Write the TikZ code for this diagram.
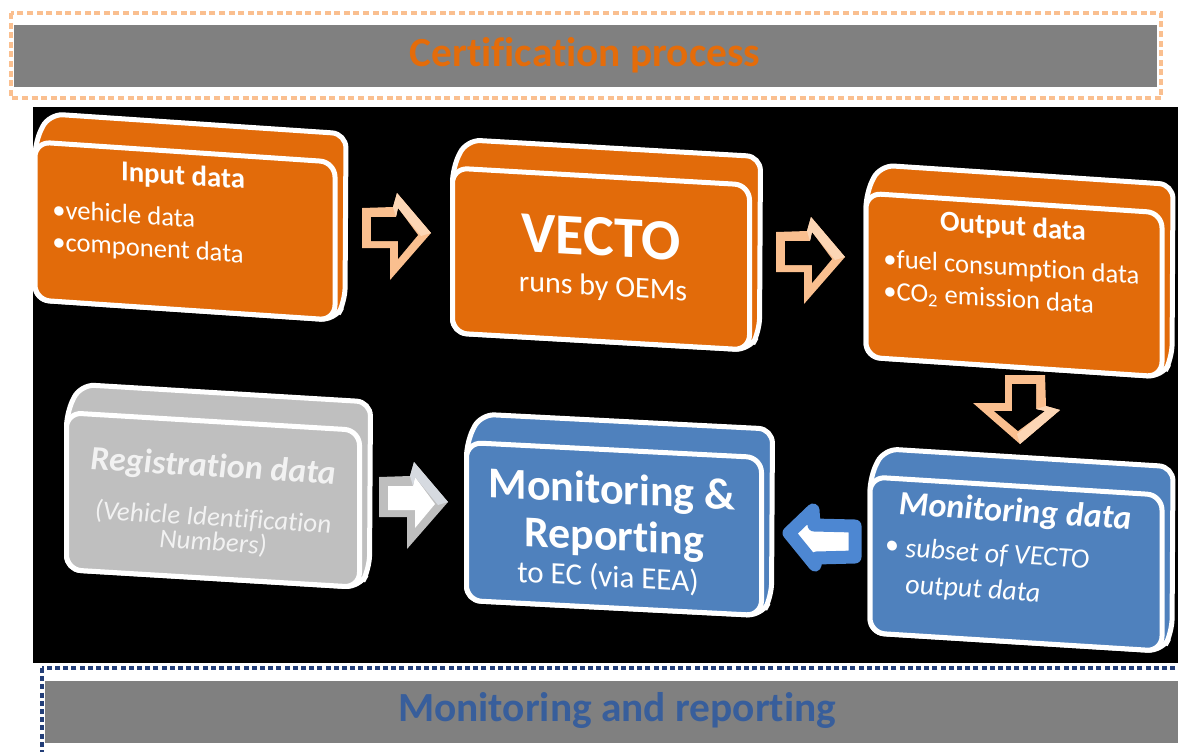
\documentclass[tikz,border=0pt]{standalone}
\usepackage{fontspec}
\setmainfont{Carlito}[Ligatures=NoCommon]
\usetikzlibrary{calc}
\definecolor{orng}{RGB}{226,107,10}
\definecolor{boxblue}{RGB}{79,129,189}
\definecolor{boxgray}{RGB}{191,191,191}
\definecolor{peach}{RGB}{250,191,143}
\definecolor{peachlt}{RGB}{252,214,181}
\definecolor{bannergray}{RGB}{128,128,128}
\definecolor{certorange}{RGB}{228,108,10}
\definecolor{mrblue}{RGB}{56,94,155}
\definecolor{navydash}{RGB}{35,62,120}
\definecolor{arrblue}{RGB}{77,135,210}
\definecolor{arrgray}{RGB}{190,190,190}
\definecolor{arrgraylt}{RGB}{214,218,224}
\definecolor{regtext}{RGB}{242,242,242}

\newcommand\xbackplate[3]{%
  \draw[backstyle, fill=#3] (-#1,#2) -- (-#1,-#2) -- ({-#1+14},{-#2-29}) -- ({#1+11},{-#2-29}) -- ({#1+10},{#2-19}) -- (#1,#2) -- cycle;}
\newcommand\xblockarrow[3]{%
  \fill[#1] (-35,-27) -- (-4,-28) -- (0,-42) -- (34,-2) -- (-7,45) -- (-7,13) -- (-35,13) -- cycle;
  \fill[#2] (-26,-18) -- (-1,-18) -- (1,-27) -- (21,0) -- (1,24) -- (1,6) -- (-26,6) -- cycle;
  \fill[#3] (-4,-28) -- (0,-42) -- (34,-2) -- (24,1) -- (1,-27) -- (-1,-18) -- cycle;}

\begin{document}
\begin{tikzpicture}[x=0.5pt,y=-0.5pt,
  backstyle/.style={draw=white, line width=2.5pt, rounded corners=7pt},
  frontbox/.style={draw=white, line width=2.5pt, rounded corners=7.5pt, inner sep=0pt, transform shape},
  wtxt/.style={text=white, inner sep=0pt, transform shape},
  banner/.style={fill=bannergray, inner sep=0pt, minimum height=31pt},
  titlefont/.style={font=\bfseries\fontsize{14.4}{17}\selectfont},
  bulfont/.style={font=\fontsize{13.3}{16}\selectfont}]
\useasboundingbox (0,0) rectangle (1178,751);
\clip (0,0) rectangle (1178,751);
\fill[white] (0,0) rectangle (1178,751);

% top banner
\draw[peach, line width=1.9pt, dash pattern=on 3pt off 1.8pt] (11,13) rectangle (1161,98);
\node[banner, minimum width=571.5pt] (certbar) at (585.5,56) {};
\node[text=certorange, inner sep=0pt, font=\bfseries\fontsize{20.7}{24}\selectfont] (certtitle) at (585,55) {Certification process};

% black background
\fill[black] (33,107) rectangle (1178,663);

% bottom banner
\draw[navydash, line width=1.8pt, dash pattern=on 2.5pt off 1.6pt] (42,668) rectangle (1200,790);
\node[banner, minimum width=566.5pt] (mrbar) at (611.5,712) {};
\node[text=mrblue, inner sep=0pt, font=\bfseries\fontsize{20.7}{24}\selectfont] (mrtitle) at (617,710) {Monitoring and reporting};

% Input data
\begin{scope}[shift={(185,231)}, yslant=-0.067]
\xbackplate{150}{79}{orng}
\node[frontbox, fill=orng, minimum width=150pt, minimum height=79pt] (inp) at (0,0) {};
\node[wtxt, titlefont] (inpT) at (-2,-54) {Input data};
\node[wtxt, bulfont, anchor=west] (inpA) at (-133,-13) {•vehicle data};
\node[wtxt, bulfont, anchor=west] (inpB) at (-133,21) {•component data};
\end{scope}

% VECTO
\begin{scope}[shift={(601,259)}, yslant=-0.057]
\xbackplate{148.5}{82.5}{orng}
\node[frontbox, fill=orng, minimum width=148.5pt, minimum height=82.5pt] (vec) at (0,0) {};
\node[wtxt, font=\bfseries\fontsize{29}{34}\selectfont] (vecT) at (0,-22) {VECTO};
\node[wtxt, font=\fontsize{15}{18}\selectfont] (vecS) at (2,29) {runs by OEMs};
\end{scope}

% Output data
\begin{scope}[shift={(1014,285)}, yslant=-0.066]
\xbackplate{148}{82}{orng}
\node[frontbox, fill=orng, minimum width=148pt, minimum height=82pt] (out) at (0,0) {};
\node[wtxt, titlefont] (outT) at (-1,-57) {Output data};
\node[wtxt, bulfont, anchor=west] (outA) at (-131,-16) {•fuel consumption data};
\node[wtxt, bulfont, anchor=west] (outB) at (-131,16) {•CO\textsubscript{2} emission data};
\end{scope}

% Registration data
\begin{scope}[shift={(213,500)}, yslant=-0.06]
\xbackplate{146.5}{78.5}{boxgray}
\node[frontbox, fill=boxgray, minimum width=146.5pt, minimum height=78.5pt] (reg) at (0,0) {};
\node[text=regtext, inner sep=0pt, transform shape, font=\bfseries\itshape\fontsize{17}{20}\selectfont] (regT) at (0,-32) {Registration data};
\node[text=regtext, inner sep=0pt, transform shape, font=\itshape\fontsize{13.5}{16}\selectfont] (regS) at (0,18) {(Vehicle Identification};
\node[text=regtext, inner sep=0pt, transform shape, font=\itshape\fontsize{13.5}{16}\selectfont] (regS2) at (0,43) {Numbers)};
\end{scope}

% Monitoring & Reporting
\begin{scope}[shift={(614,529)}, yslant=-0.051]
\xbackplate{147.5}{79}{boxblue}
\node[frontbox, fill=boxblue, minimum width=147.5pt, minimum height=79pt] (mr) at (0,0) {};
\node[wtxt, font=\bfseries\fontsize{22}{26}\selectfont] (mrA) at (-2,-37) {Monitoring \&};
\node[wtxt, font=\bfseries\fontsize{22}{26}\selectfont] (mrB) at (0,10) {Reporting};
\node[wtxt, font=\fontsize{15.5}{18}\selectfont] (mrC) at (-6,49) {to EC (via EEA)};
\end{scope}

% Monitoring data
\begin{scope}[shift={(1016,564)}, yslant=-0.062]
\xbackplate{146}{78}{boxblue}
\node[frontbox, fill=boxblue, minimum width=146pt, minimum height=78pt] (mon) at (0,0) {};
\node[wtxt, font=\bfseries\itshape\fontsize{17}{20}\selectfont] (monT) at (-1,-51) {Monitoring data};
\node[wtxt, font=\fontsize{14}{16}\selectfont] (monBul) at (-124,-9) {•};
\node[wtxt, anchor=west, font=\itshape\fontsize{14}{16}\selectfont] (monA) at (-111,-8) {subset of VECTO};
\node[wtxt, anchor=west, font=\itshape\fontsize{14}{16}\selectfont] (monB) at (-111,29) {output data};
\end{scope}

% block arrows
\coordinate (a1) at (397,235);
\coordinate (a2) at (811,259);
\coordinate (a3) at (1018,410);
\coordinate (a4) at (414,504);
\begin{scope}[shift={(a1)}]\xblockarrow{peach}{black}{peachlt}\end{scope}
\begin{scope}[shift={(a2)}]\xblockarrow{peach}{black}{peachlt}\end{scope}
\begin{scope}[shift={(a3)}, rotate=-90]\xblockarrow{peach}{black}{peachlt}\end{scope}
\begin{scope}[shift={(a4)}]\xblockarrow{arrgray}{white}{arrgraylt}\end{scope}
\filldraw[draw=arrblue, fill=white, line width=6.5pt, line join=round]
  (789,533) -- (813,510) -- (814,525) -- (855,526) -- (855,557) -- (816,558) -- (815,565) -- cycle;
\end{tikzpicture}
\end{document}
